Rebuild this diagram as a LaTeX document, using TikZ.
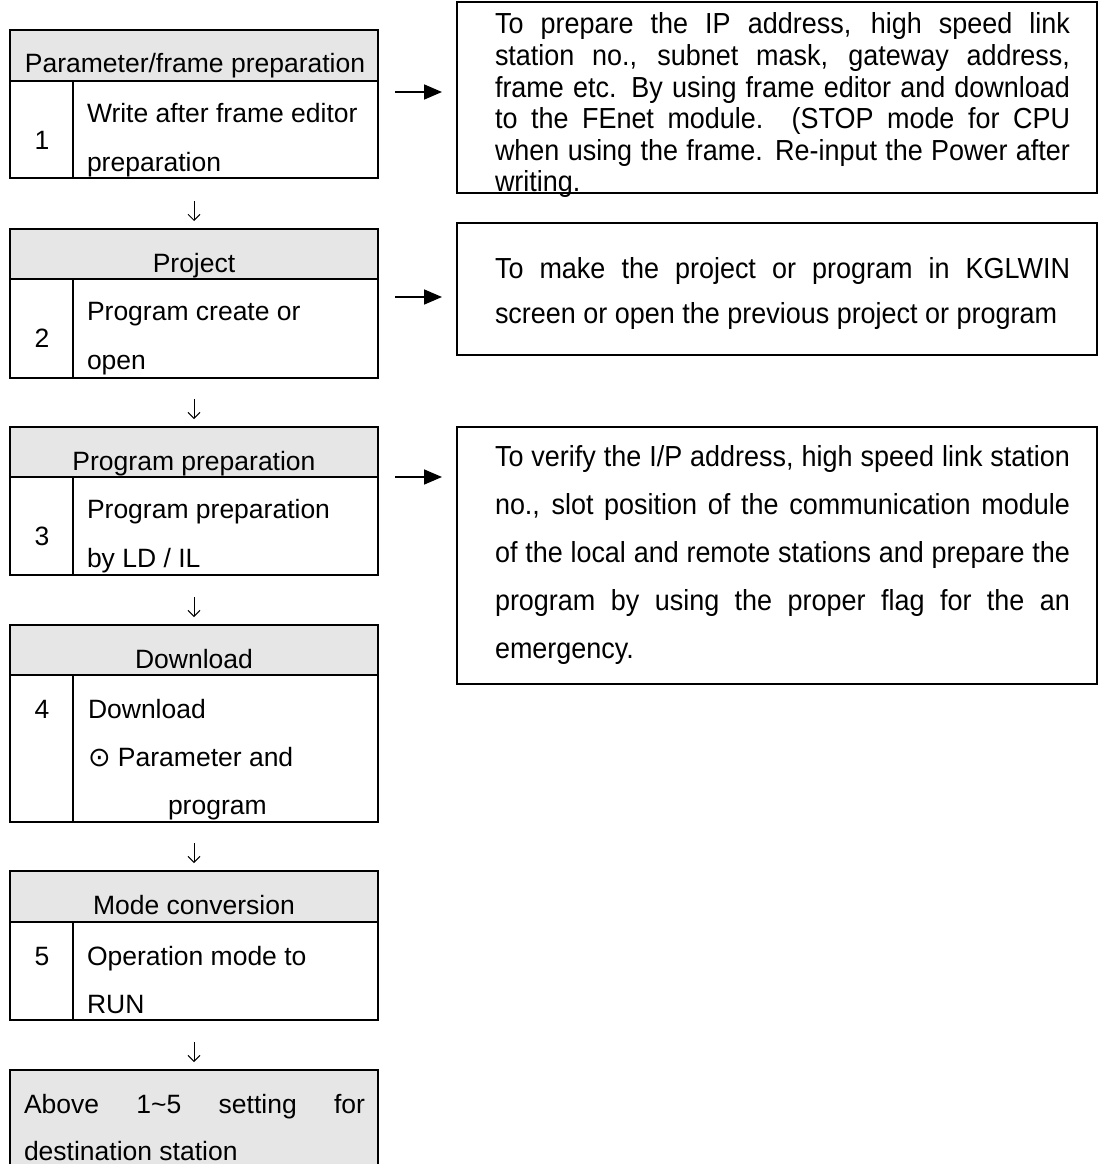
\documentclass[tikz,border=0pt]{standalone}
\usepackage{fontspec}
\setmainfont{Liberation Sans}
\newfontfamily\rfont{Liberation Sans}[FakeStretch=0.93]
\newfontfamily\symfont{DejaVu Sans}
\usetikzlibrary{arrows.meta}
\definecolor{hdrgray}{RGB}{230,230,230}
\newcommand{\rjust}[1]{\hbox{\makebox[575pt][s]{#1}}}
\newcommand{\rplain}[1]{\hbox{#1}}
\begin{document}
\begin{tikzpicture}[x=1pt,y=-1pt,
  every node/.style={inner sep=0pt, outer sep=0pt},
  hdr/.style={rectangle, draw, line width=2pt, fill=hdrgray, minimum width=368pt, anchor=north west},
  bodybox/.style={rectangle, draw, line width=2pt, fill=white, minimum width=368pt, anchor=north west},
  notebox/.style={rectangle, draw, line width=2.2pt, minimum width=640pt, anchor=north west},
  divider/.style={line width=2pt},
  txt/.style={anchor=base west, font=\fontsize{26.5pt}{30pt}\selectfont},
  ctxt/.style={anchor=base, font=\fontsize{26.5pt}{30pt}\selectfont},
  rtxt/.style={anchor=base west, font=\rfont\fontsize{29pt}{32pt}\selectfont},
  darr/.style={line width=1pt, -{Straight Barb[length=6pt,width=12pt]}},
  rarr/.style={line width=1.7pt, -{Triangle[length=18pt,width=15pt]}, shorten <=17pt, shorten >=15pt}
]
\useasboundingbox (0,0) rectangle (1099,1164);

% ---------- left column ----------
% box 1
\node[hdr, minimum height=51pt] (h1) at (10,30) {};
\node[bodybox, minimum height=97pt] (p1) at (10,81) {};
\draw[divider] ([xshift=63pt]p1.north west) -- ([xshift=63pt]p1.south west);
\node[ctxt] (t1h) at (195,73) {Parameter/frame preparation};
\node[ctxt] (n1) at (42,149) {1};
\node[txt] (t1) at (87,122) {\vtop{\baselineskip=49pt \rplain{Write after frame editor}\rplain{preparation}}};

% box 2
\node[hdr, minimum height=50pt] (h2) at (10,229) {};
\node[bodybox, minimum height=99pt] (p2) at (10,279) {};
\draw[divider] ([xshift=63pt]p2.north west) -- ([xshift=63pt]p2.south west);
\node[ctxt] (t2h) at (194,272) {Project};
\node[ctxt] (n2) at (42,347) {2};
\node[txt] (t2) at (87,320) {\vtop{\baselineskip=49pt \rplain{Program create or}\rplain{open}}};

% box 3
\node[hdr, minimum height=50pt] (h3) at (10,427) {};
\node[bodybox, minimum height=98pt] (p3) at (10,477) {};
\draw[divider] ([xshift=63pt]p3.north west) -- ([xshift=63pt]p3.south west);
\node[ctxt] (t3h) at (194,470) {Program preparation};
\node[ctxt] (n3) at (42,545) {3};
\node[txt] (t3) at (87,518) {\vtop{\baselineskip=49pt \rplain{Program preparation}\rplain{by LD / IL}}};

% box 4
\node[hdr, minimum height=50pt] (h4) at (10,625) {};
\node[bodybox, minimum height=147pt] (p4) at (10,675) {};
\draw[divider] ([xshift=63pt]p4.north west) -- ([xshift=63pt]p4.south west);
\node[ctxt] (t4h) at (194,668) {Download};
\node[ctxt] (n4) at (42,718) {4};
\node[txt] (t4) at (88,718) {\vtop{\baselineskip=48pt \rplain{Download}\rplain{{\symfont\fontsize{27pt}{30pt}\selectfont ⊙}\ Parameter and}\rplain{\kern80pt program}}};

% box 5
\node[hdr, minimum height=51pt] (h5) at (10,871) {};
\node[bodybox, minimum height=98pt] (p5) at (10,922) {};
\draw[divider] ([xshift=63pt]p5.north west) -- ([xshift=63pt]p5.south west);
\node[ctxt] (t5h) at (194,914) {Mode conversion};
\node[ctxt] (n5) at (42,965) {5};
\node[txt] (t5) at (87,965) {\vtop{\baselineskip=48pt \rplain{Operation mode to}\rplain{RUN}}};

% box 6
\node[hdr, minimum height=100pt] (h6) at (10,1070) {};
\node[txt] (t6) at (24,1113) {\vtop{\baselineskip=47pt \hbox{\makebox[341pt][s]{Above 1\textasciitilde 5 setting for}}\rplain{destination station}}};

% down arrows
\draw[darr] ([yshift=28pt]h2.north) -- ([yshift=8pt]h2.north);
\draw[darr] ([yshift=28pt]h3.north) -- ([yshift=8pt]h3.north);
\draw[darr] ([yshift=28pt]h4.north) -- ([yshift=8pt]h4.north);
\draw[darr] ([yshift=28pt]h5.north) -- ([yshift=8pt]h5.north);
\draw[darr] ([yshift=28pt]h6.north) -- ([yshift=8pt]h6.north);

% ---------- right column ----------
\node[notebox, minimum height=191pt] (rA) at (457,2) {};
\node[rtxt] (tA) at (495,34) {\vtop{\baselineskip=31.6pt
  \rjust{To prepare the IP address, high speed link}
  \rjust{station no., subnet mask, gateway address,}
  \rjust{frame etc. By using frame editor and download}
  \rjust{to the FEnet module. (STOP mode for CPU}
  \rjust{when using the frame. Re-input the Power after}
  \rplain{writing.}}};

\node[notebox, minimum height=132pt] (rB) at (457,223) {};
\node[rtxt] (tB) at (495,278) {\vtop{\baselineskip=45pt
  \rjust{To make the project or program in KGLWIN}
  \rplain{screen or open the previous project or program}}};

\node[notebox, minimum height=257pt] (rC) at (457,427) {};
\node[rtxt] (tC) at (495,466) {\vtop{\baselineskip=48pt
  \rjust{To verify the I/P address, high speed link station}
  \rjust{no., slot position of the communication module}
  \rjust{of the local and remote stations and prepare the}
  \rjust{program by using the proper flag for the an}
  \rplain{emergency.}}};

% right arrows
\coordinate (a1) at (0,92);
\coordinate (a2) at (0,297);
\coordinate (a3) at (0,477);
\draw[rarr] (p1.east |- a1) -- (rA.west |- a1);
\draw[rarr] (p2.east |- a2) -- (rB.west |- a2);
\draw[rarr] (p3.east |- a3) -- (rC.west |- a3);
\end{tikzpicture}
\end{document}
